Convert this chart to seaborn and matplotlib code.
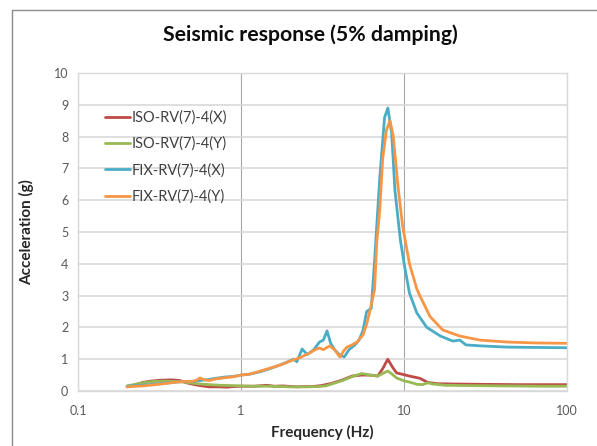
import pandas as pd
import seaborn as sns
import matplotlib.pyplot as plt
from matplotlib.lines import Line2D
from matplotlib.ticker import FixedLocator, FixedFormatter, NullLocator

# ISO-RV(7)-4(X)
iso_x_freq = [0.2, 0.22, 0.25, 0.28, 0.32, 0.38, 0.42, 0.47, 0.52, 0.56, 0.64, 0.74, 0.82, 0.9, 1.0,
              1.08, 1.2, 1.44, 1.6, 1.8, 2.2, 2.5, 2.75, 3.1, 3.6, 4.2, 4.8, 5.5, 6.2, 6.9, 7.4, 7.95,
              8.5, 9.0, 10.8, 12.5, 14.0, 16, 20, 30, 50, 100]
iso_x_acc = [0.13, 0.18, 0.27, 0.31, 0.34, 0.35, 0.33, 0.25, 0.2, 0.17, 0.13, 0.13, 0.12, 0.14, 0.15,
             0.15, 0.15, 0.18, 0.15, 0.16, 0.13, 0.14, 0.14, 0.17, 0.24, 0.35, 0.47, 0.5, 0.5, 0.47, 0.7, 1.0,
             0.75, 0.57, 0.47, 0.4, 0.27, 0.23, 0.22, 0.21, 0.2, 0.2]

# ISO-RV(7)-4(Y)
iso_y_freq = [0.2, 0.23, 0.26, 0.29, 0.33, 0.4, 0.45, 0.5, 0.56, 0.64, 0.75, 0.9, 1.0, 1.2, 1.5, 2.0,
              2.5, 3.0, 3.3, 3.6, 4.2, 4.8, 5.5, 6.2, 6.9, 7.4, 7.95, 8.5, 9.0, 10.0, 10.8, 12.0, 13.0,
              14.0, 15, 18, 25, 40, 70, 100]
iso_y_acc = [0.16, 0.22, 0.27, 0.3, 0.31, 0.3, 0.28, 0.25, 0.22, 0.2, 0.18, 0.17, 0.16, 0.15, 0.15, 0.13,
             0.13, 0.14, 0.16, 0.22, 0.33, 0.45, 0.55, 0.5, 0.47, 0.55, 0.63, 0.52, 0.41, 0.32, 0.28, 0.21, 0.2,
             0.26, 0.22, 0.18, 0.17, 0.16, 0.15, 0.15]

# FIX-RV(7)-4(X)
fix_x_freq = [0.2, 0.25, 0.3, 0.35, 0.4, 0.45, 0.5, 0.56, 0.63, 0.7, 0.8, 0.9, 1.0, 1.13, 1.3, 1.5,
              1.7, 1.9, 2.1, 2.2, 2.37, 2.55, 2.8, 3.03, 3.2, 3.37, 3.55, 3.76, 4.04, 4.3, 4.6, 5.0, 5.3,
              5.6, 5.9, 6.3, 6.6, 7.1, 7.6, 7.96, 8.4, 8.8, 9.5, 10.1, 10.8, 12.0, 13.8, 16.7, 19.9, 22,
              24, 29.3, 42.9, 65, 100]
fix_x_acc = [0.15, 0.18, 0.22, 0.25, 0.28, 0.3, 0.3, 0.33, 0.36, 0.4, 0.44, 0.46, 0.5, 0.53, 0.6, 0.7,
             0.8, 0.9, 1.0, 0.92, 1.32, 1.15, 1.3, 1.54, 1.6, 1.89, 1.5, 1.29, 1.13, 1.07, 1.3, 1.45, 1.6,
             1.9, 2.5, 2.6, 4.1, 6.7, 8.6, 8.9, 8.1, 6.3, 4.75, 3.9, 3.08, 2.45, 2.0, 1.73, 1.57, 1.6,
             1.45, 1.42, 1.38, 1.37, 1.36]

# FIX-RV(7)-4(Y)
fix_y_freq = [0.2, 0.25, 0.3, 0.35, 0.4, 0.45, 0.5, 0.53, 0.56, 0.6, 0.64, 0.7, 0.8, 0.9, 1.0, 1.13,
              1.3, 1.51, 1.75, 2.0, 2.3, 2.65, 2.85, 3.03, 3.2, 3.5, 3.75, 4.04, 4.25, 4.46, 4.8, 5.16,
              5.6, 5.9, 6.2, 6.6, 6.8, 7.1, 7.4, 7.8, 8.2, 8.6, 9.2, 9.8, 10.8, 12.0, 12.5, 13.8, 14.4,
              16.7, 17.3, 21.9, 29.3, 42.9, 65.5, 100]
fix_y_acc = [0.13, 0.16, 0.2, 0.24, 0.28, 0.3, 0.3, 0.33, 0.41, 0.35, 0.33, 0.38, 0.42, 0.45, 0.5, 0.53,
             0.62, 0.72, 0.82, 0.94, 1.05, 1.2, 1.3, 1.35, 1.3, 1.42, 1.3, 1.07, 1.25, 1.38, 1.45, 1.54,
             1.76, 2.1, 2.55, 3.2, 4.65, 5.7, 7.3, 8.2, 8.5, 8.0, 6.4, 5.2, 4.0, 3.2, 3.0, 2.55, 2.35,
             2.0, 1.92, 1.73, 1.6, 1.54, 1.51, 1.5]

series_names = ['ISO-RV(7)-4(X)', 'ISO-RV(7)-4(Y)', 'FIX-RV(7)-4(X)', 'FIX-RV(7)-4(Y)']
series_colors = ['#BE4B48', '#98B954', '#4BACC6', '#F79646']

x_ticks = [0.1, 1, 10, 100]
x_tick_labels = ['0.1', '1', '10', '100']


def build_frame():
    parts = []
    for name, f, a in zip(series_names,
                          [iso_x_freq, iso_y_freq, fix_x_freq, fix_y_freq],
                          [iso_x_acc, iso_y_acc, fix_x_acc, fix_y_acc]):
        parts.append(pd.DataFrame({'freq': f, 'acc': a, 'series': name}))
    return pd.concat(parts, ignore_index=True)


def main():
    sns.set_theme(style='white')
    plt.rcParams['font.family'] = ['Lato', 'DejaVu Sans']

    df = build_frame()
    fig = plt.figure(figsize=(5.97, 4.46), dpi=100)
    ax = fig.add_axes([78 / 597, 55 / 446, 489 / 597, 318 / 446])

    sns.lineplot(data=df, x='freq', y='acc', hue='series', hue_order=series_names,
                 palette=series_colors, estimator=None, linewidth=2.0, ax=ax, legend=False)

    ax.set_xscale('log')
    ax.set_xlim(0.1, 100)
    ax.set_ylim(0, 10)
    ax.xaxis.set_major_locator(FixedLocator(x_ticks))
    ax.xaxis.set_major_formatter(FixedFormatter(x_tick_labels))
    ax.xaxis.set_minor_locator(NullLocator())
    ax.set_yticks(range(0, 11))

    ax.yaxis.grid(True, color='#D9D9D9', linewidth=1.2)
    ax.xaxis.grid(True, color='#A6A6A6', linewidth=0.8)
    ax.set_axisbelow(True)
    for sp in ax.spines.values():
        sp.set_color('#D9D9D9')
        sp.set_linewidth(1.0)

    ax.tick_params(axis='both', length=0, labelsize=9, colors='#595959')
    ax.tick_params(axis='x', pad=10)
    ax.tick_params(axis='y', pad=7)

    ax.set_xlabel('Frequency (Hz)', fontsize=11, fontweight='bold', color='#262626', labelpad=6)
    ax.set_ylabel('Acceleration (g)', fontsize=11, fontweight='bold', color='#262626', labelpad=14)
    fig.text(0.52, 1 - 35 / 446, 'Seismic response (5% damping)', ha='center', va='center',
             fontsize=15.3, fontweight='bold', color='#0D0D0D')

    handles = [Line2D([], [], color=c, linewidth=2.0) for c in series_colors]
    ax.legend(handles, series_names, loc='upper left', bbox_to_anchor=(0.04, 0.905),
              frameon=False, fontsize=10.5, handlelength=1.7, handletextpad=0.15,
              labelspacing=0.82, borderpad=0, labelcolor='#404040')

    # outer chart border (only top and left are inside the picture)
    fig.add_artist(Line2D([12 / 597, 12 / 597], [0, 1 - 10 / 446], color='#8C8C8C', linewidth=1.0))
    fig.add_artist(Line2D([12 / 597, 1], [1 - 10 / 446, 1 - 10 / 446], color='#8C8C8C', linewidth=1.0))

    fig.savefig('out.png', dpi=100)
    return fig


if __name__ == '__main__':
    main()
